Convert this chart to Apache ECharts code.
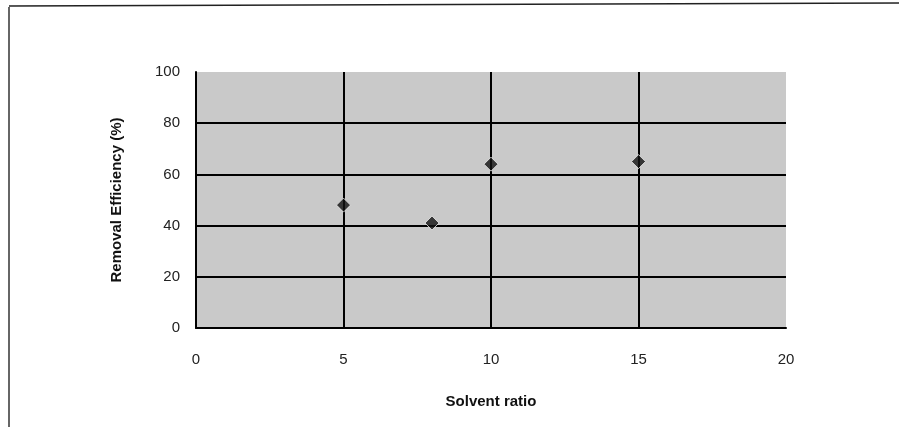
<!DOCTYPE html>
<html>
<head>
<meta charset="utf-8">
<script src="https://cdn.jsdelivr.net/npm/echarts@6/dist/echarts.min.js"></script>
<style>html,body{margin:0;padding:0;background:#fff}#c{width:899px;height:427px}</style>
</head>
<body>
<div id="c"></div>
<script>
var solventRatio = [5, 8, 10, 15];
var removalEfficiency = [48, 41, 64, 65];
var xTicks = [0, 5, 10, 15, 20];
var yTicks = [0, 20, 40, 60, 80, 100];

var points = solventRatio.map(function (x, i) { return [x, removalEfficiency[i]]; });
var chart = echarts.init(document.getElementById('c'));
chart.setOption({
  animation: false,
  backgroundColor: '#ffffff',
  textStyle: { fontFamily: 'Liberation Sans, Arial, sans-serif' },
  graphic: [
    { type: 'line', shape: { x1: 9, y1: 7, x2: 9, y2: 427 }, style: { stroke: '#333', lineWidth: 1.5 } },
    { type: 'line', shape: { x1: 9, y1: 6, x2: 899, y2: 3 }, style: { stroke: '#222', lineWidth: 1.5 } }
  ],
  grid: {
    left: 196, right: 113, top: 72, bottom: 99,
    show: true, backgroundColor: '#c9c9c9', borderWidth: 0
  },
  xAxis: {
    type: 'value', min: xTicks[0], max: xTicks[xTicks.length - 1], interval: 5,
    name: 'Solvent ratio', nameLocation: 'middle', nameGap: 66,
    nameTextStyle: { fontSize: 15, fontWeight: 'bold', color: '#111' },
    axisLine: { show: true, lineStyle: { color: '#000', width: 2 } },
    axisTick: { show: false },
    axisLabel: { fontSize: 15, color: '#222', margin: 24 },
    splitLine: { show: true, showMinLine: false, showMaxLine: false, lineStyle: { color: '#000', width: 2 } }
  },
  yAxis: {
    type: 'value', min: yTicks[0], max: yTicks[yTicks.length - 1], interval: 20,
    name: 'Removal Efficiency (%)', nameLocation: 'middle', nameGap: 72,
    nameTextStyle: { fontSize: 15, fontWeight: 'bold', color: '#111' },
    axisLine: { show: true, lineStyle: { color: '#000', width: 2 } },
    axisTick: { show: false },
    axisLabel: { fontSize: 15, color: '#222', margin: 16 },
    splitLine: { show: true, showMinLine: false, showMaxLine: false, lineStyle: { color: '#000', width: 2 } }
  },
  series: [{
    type: 'scatter',
    data: points,
    symbol: 'diamond',
    symbolSize: [14, 14],
    itemStyle: { color: '#111', borderColor: '#eeeeee', borderWidth: 1 }
  }]
});
</script>
</body>
</html>
